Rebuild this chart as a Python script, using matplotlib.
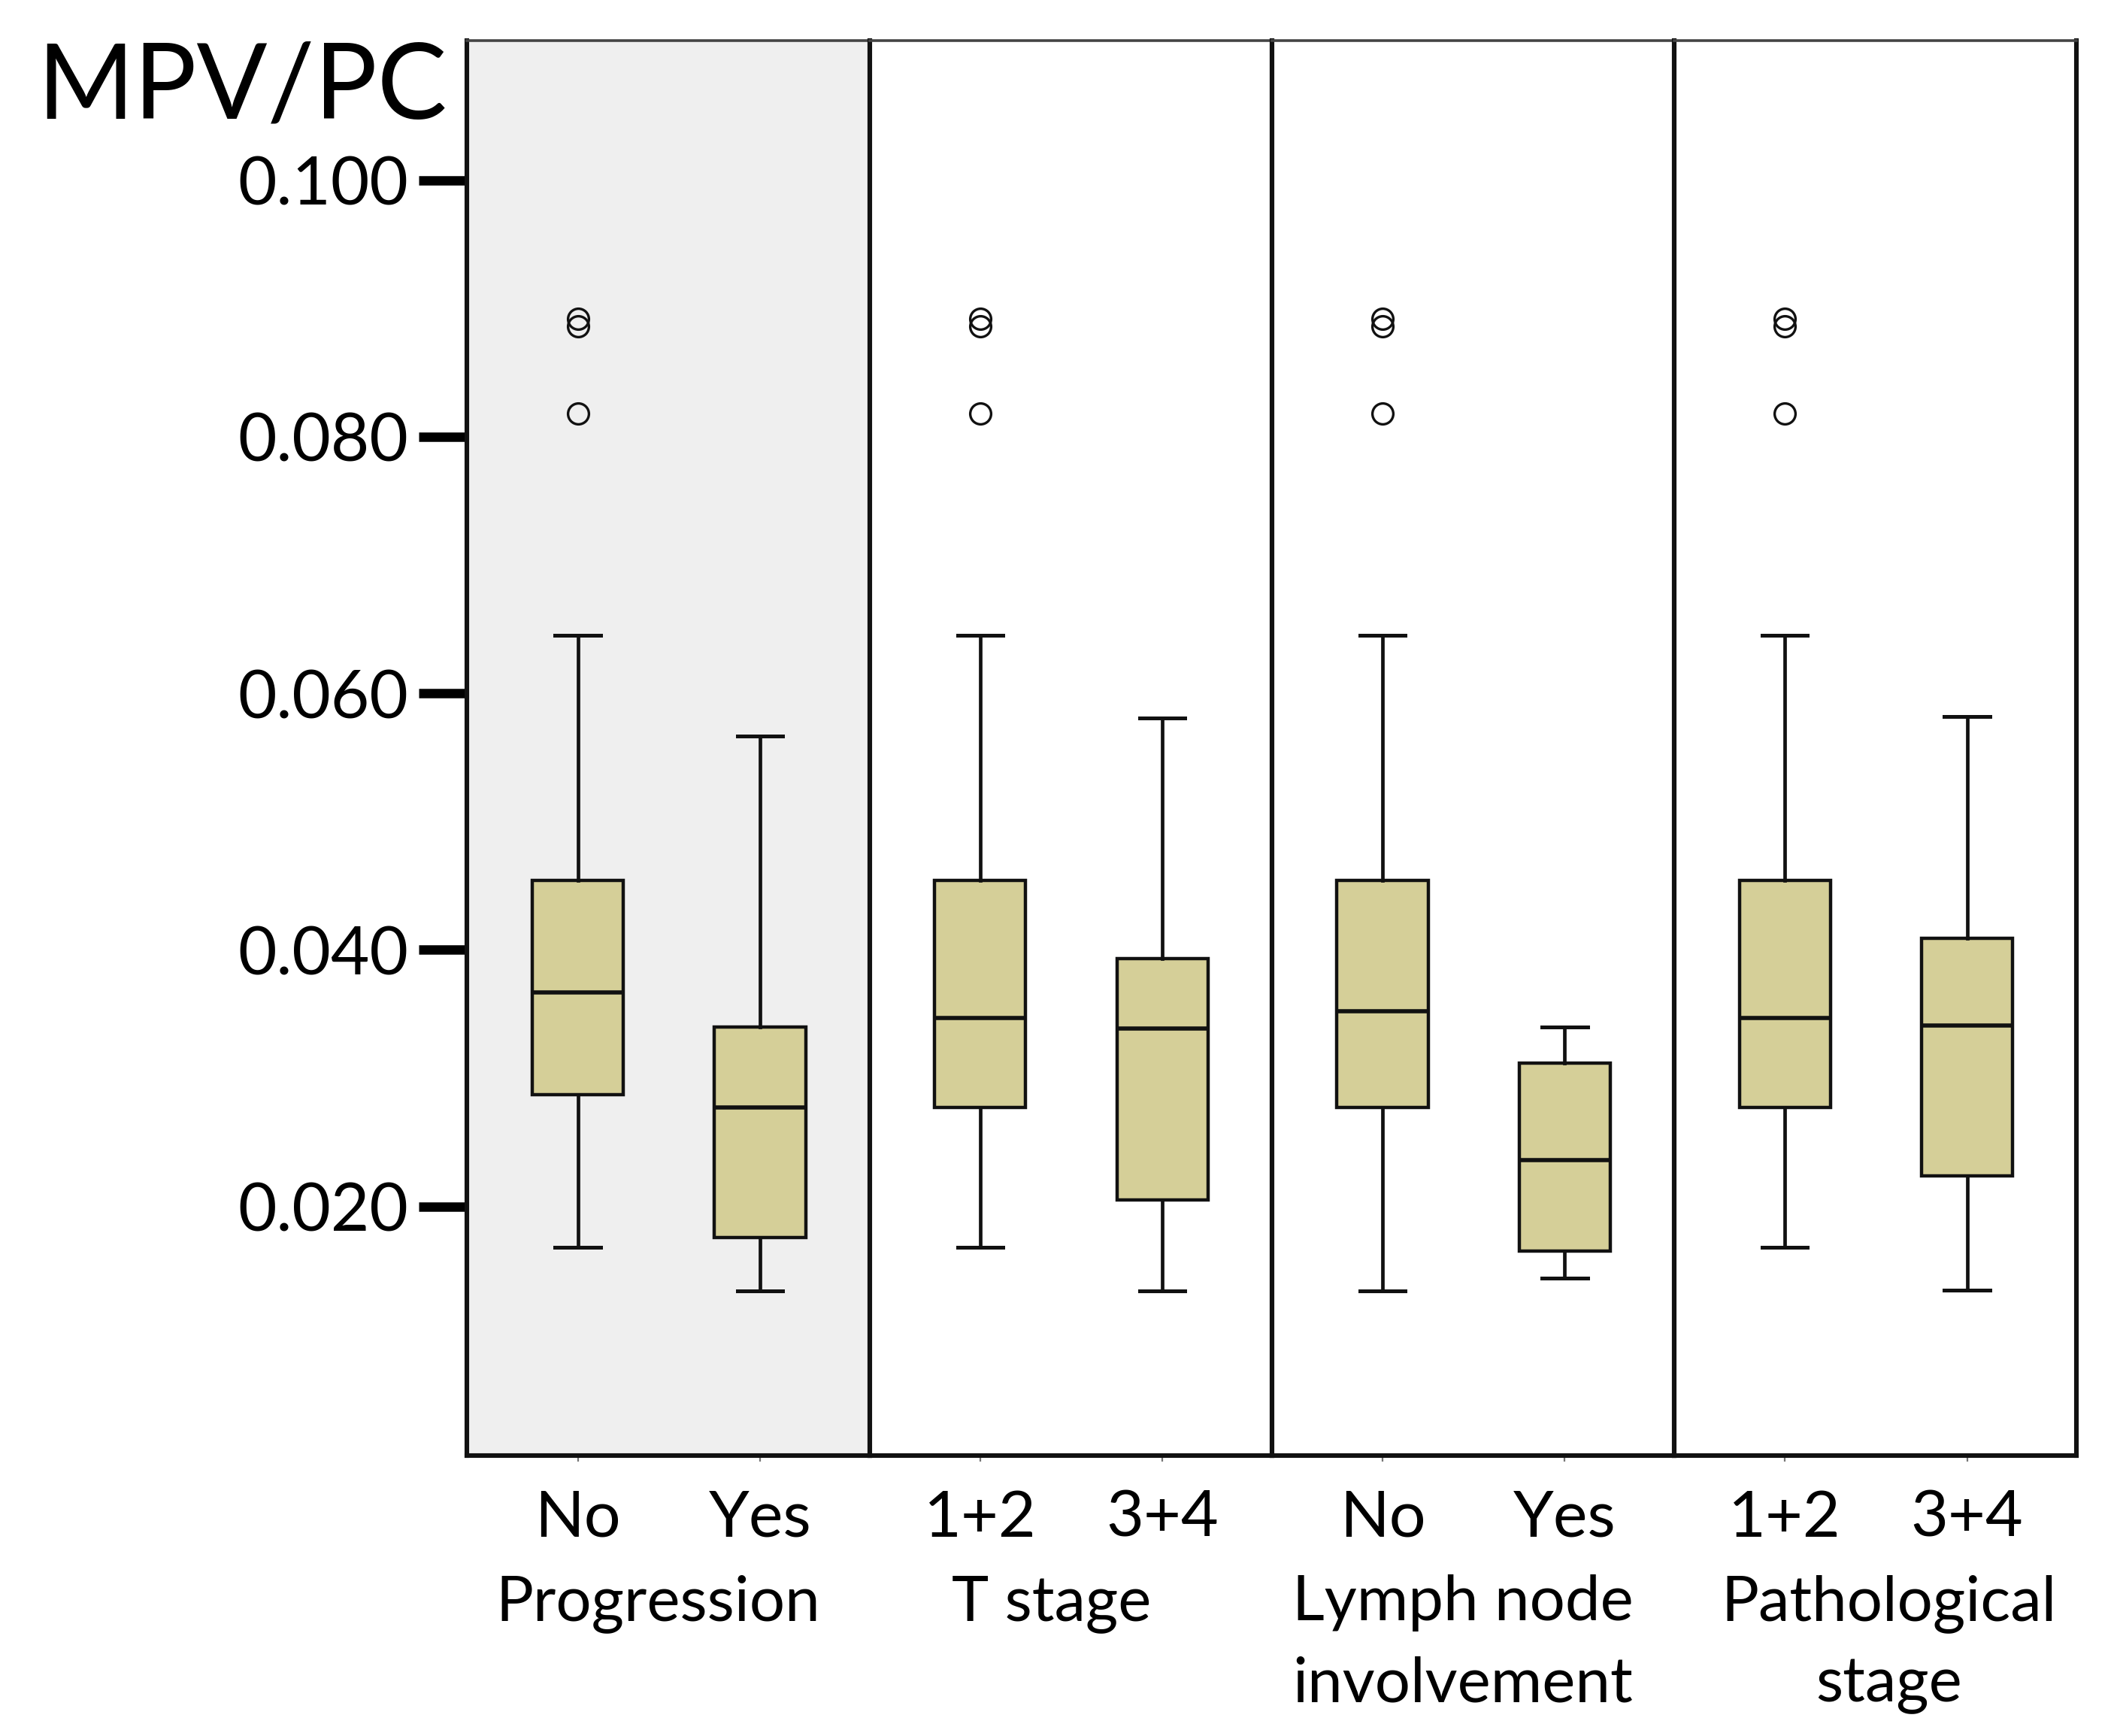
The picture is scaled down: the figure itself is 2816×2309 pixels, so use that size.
import matplotlib
matplotlib.use('Agg')
import matplotlib.pyplot as plt

plt.rcParams['font.family'] = ['Lato', 'DejaVu Sans']

# ---------------- data ----------------
group_labels = [['Progression'], ['T stage'], ['Lymph node', 'involvement'], ['Pathological', 'stage']]
categories = [['No', 'Yes'], ['1+2', '3+4'], ['No', 'Yes'], ['1+2', '3+4']]

whisker_high = [[0.0645, 0.0567], [0.0645, 0.0581], [0.0645, 0.0340], [0.0645, 0.0582]]
q3_values    = [[0.0454, 0.0340], [0.0454, 0.0393], [0.0454, 0.0312], [0.0454, 0.0409]]
medians      = [[0.0367, 0.0277], [0.0347, 0.0339], [0.0352, 0.0236], [0.0347, 0.0341]]
q1_values    = [[0.0287, 0.0176], [0.0277, 0.0205], [0.0277, 0.0165], [0.0277, 0.0224]]
whisker_low  = [[0.0168, 0.0134], [0.0168, 0.0134], [0.0134, 0.0144], [0.0168, 0.0135]]
outliers     = [[[0.0892, 0.0886, 0.0818], []],
                [[0.0892, 0.0886, 0.0818], []],
                [[0.0892, 0.0886, 0.0818], []],
                [[0.0892, 0.0886, 0.0818], []]]

y_ticks = [0.020, 0.040, 0.060, 0.080, 0.100]
y_ticklabels = ['0.020', '0.040', '0.060', '0.080', '0.100']
y_title = 'MPV/PC'

# ---------------- style / layout ----------------
box_color = '#d5cf98'
shade = '#efefef'
FS = 31
group_label_x = [0.44, 0.39, 0.44, 0.57]

fig = plt.figure(figsize=(14.08, 11.545), dpi=200)
axes = fig.subplots(1, 4, sharey=True, gridspec_kw=dict(wspace=0))
fig.subplots_adjust(left=0.2207, right=0.9809, bottom=0.1617, top=0.9767)

positions = [0, 1]
for i, ax in enumerate(axes):
    stats = []
    for j in range(2):
        stats.append(dict(med=medians[i][j], q1=q1_values[i][j], q3=q3_values[i][j],
                          whislo=whisker_low[i][j], whishi=whisker_high[i][j],
                          fliers=outliers[i][j], label=categories[i][j]))
    ax.bxp(stats, positions=positions, widths=0.5, patch_artist=True,
           boxprops=dict(facecolor=box_color, edgecolor='#111111', linewidth=1.6),
           medianprops=dict(color='#111111', linewidth=2.0),
           whiskerprops=dict(color='#111111', linewidth=1.7),
           capprops=dict(color='#111111', linewidth=1.8),
           capwidths=0.25,
           flierprops=dict(marker='o', markerfacecolor='none', markeredgecolor='#111111',
                           markersize=10, markeredgewidth=1.2))
    ax.set_xlim(-0.607, 1.601)
    ax.set_ylim(0.0006, 0.1109)
    if i == 0:
        ax.set_facecolor(shade)
    for s in ['left', 'right', 'bottom']:
        ax.spines[s].set_linewidth(2.2)
        ax.spines[s].set_color('#111111')
    ax.spines['top'].set_linewidth(1.3)
    ax.spines['top'].set_color('#444444')
    ax.set_xticks(positions)
    ax.set_xticklabels(['', ''])
    ax.tick_params(axis='x', direction='out', length=3, width=0.8, color='#777777')
    if i == 0:
        ax.set_yticks(y_ticks)
        ax.set_yticklabels(y_ticklabels, fontsize=32)
        ax.tick_params(axis='y', direction='out', length=23, width=4.5, pad=5, color='black')
    else:
        ax.tick_params(axis='y', left=False, labelleft=False)
    # category labels
    for j, lab in enumerate(categories[i]):
        ax.annotate(lab, xy=(positions[j], 0), xycoords=('data', 'axes fraction'),
                    xytext=(0, -39), textcoords='offset points',
                    ha='center', va='baseline', fontsize=FS)
    # group labels
    for k, line in enumerate(group_labels[i]):
        ax.annotate(line, xy=(group_label_x[i], 0), xycoords=('data', 'axes fraction'),
                    xytext=(0, -79 - 39 * k), textcoords='offset points',
                    ha='center', va='baseline', fontsize=30)

fig.text(0.0174, 0.932, y_title, fontsize=50, ha='left', va='baseline')

fig.savefig('out.png', dpi=200)
